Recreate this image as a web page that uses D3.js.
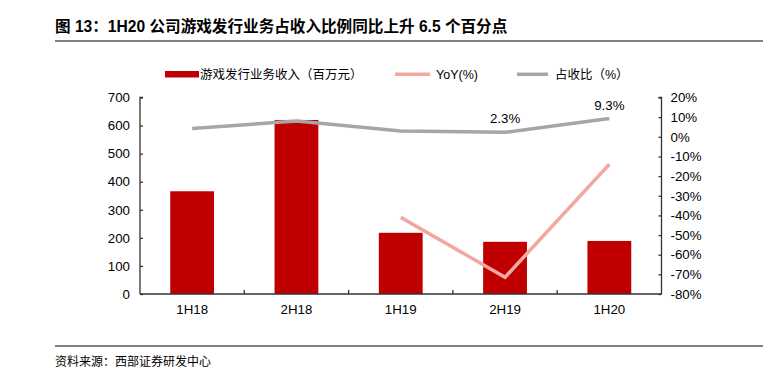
<!DOCTYPE html>
<html><head><meta charset="utf-8">
<script src="https://cdn.jsdelivr.net/npm/d3@7/dist/d3.min.js"></script>
<style>
body{margin:0;background:#fff;}
svg text{font-family:"Liberation Sans",Arial,"Noto Sans CJK SC",sans-serif;}
.cjk{font-family:"Liberation Sans","Noto Sans CJK SC",sans-serif;}
</style></head>
<body><svg id="c" width="772" height="371"></svg>
<script>
const categories = ["1H18","2H18","1H19","2H19","1H20"];
const revenue = [366, 620, 218, 186, 189];
const yoy = [null, null, -41, -71.5, -14];
const share = [4.2, 8.0, 3.0, 2.3, 9.3];
const shareLabels = [null, null, null, "2.3%", "9.3%"];
const leftTicks = [0,100,200,300,400,500,600,700];
const rightTicks = [20,10,0,-10,-20,-30,-40,-50,-60,-70,-80];
const titleText = "图 13：1H20 公司游戏发行业务占收入比例同比上升 6.5 个百分点";
const sourceText = "资料来源：西部证券研发中心";
const legendNames = ["游戏发行业务收入（百万元）","YoY(%)","占收比（%）"];

(function(){
const svg = d3.select("#c");
const pL = 140, pR = 661.5, pT = 97.5, pB = 294;
const red = "#C00000", pink = "#F4A7A1", gray = "#A6A6A6";

svg.append("text").attr("x",55).attr("y",32).attr("font-size",15.6).attr("font-weight","bold")
  .attr("fill","#000").attr("class","cjk").text(titleText);
svg.append("line").attr("x1",55).attr("x2",763).attr("y1",41).attr("y2",41).attr("stroke","#000").attr("stroke-width",1.2);
svg.append("line").attr("x1",55).attr("x2",763).attr("y1",346).attr("y2",346).attr("stroke","#000").attr("stroke-width",1.2);
svg.append("text").attr("x",55).attr("y",366).attr("font-size",12).attr("fill","#000").attr("class","cjk").text(sourceText);

const x = d3.scaleBand().domain(categories).range([pL,pR]).paddingInner(0).paddingOuter(0);
const yL = d3.scaleLinear().domain([0,700]).range([pB,pT]);
const yR = d3.scaleLinear().domain([-80,20]).range([pB,pT]);
const bw = x.bandwidth()*0.42;

svg.append("g").selectAll("rect").data(categories).join("rect")
  .attr("x",d=>x(d)+x.bandwidth()/2-bw/2).attr("width",bw)
  .attr("y",(d,i)=>yL(revenue[i])).attr("height",(d,i)=>pB-yL(revenue[i]))
  .attr("fill",red);

const axL = svg.append("g").attr("transform",`translate(${pL},0)`)
  .call(d3.axisLeft(yL).tickValues(leftTicks).tickSize(-3).tickPadding(10).tickFormat(d3.format("d")));
const axR = svg.append("g").attr("transform",`translate(${pR},0)`)
  .call(d3.axisRight(yR).tickValues(rightTicks).tickSize(-3).tickPadding(9).tickFormat(d=>d+"%"));
const axB = svg.append("g").attr("transform",`translate(0,${pB})`)
  .call(d3.axisBottom(x).tickSize(0).tickPadding(11));
[axL,axR,axB].forEach(a=>{
  a.select(".domain").attr("stroke","#333").attr("stroke-width",1.3);
  a.selectAll(".tick line").attr("stroke","#333").attr("stroke-width",1.3);
  a.selectAll("text").attr("font-size",13.3).attr("fill","#000").attr("font-family","Liberation Sans, Arial, sans-serif");
});
axL.select(".domain").attr("d",`M3,${pT}H0V${pB}`);
axR.select(".domain").attr("d",`M-3,${pT}H0V${pB}`);
axB.select(".domain").attr("d",`M${pL},0H${pR}`);
axB.append("g").selectAll("line").data(categories.slice(1)).join("line")
  .attr("x1",d=>x(d)).attr("x2",d=>x(d)).attr("y1",0).attr("y2",-4)
  .attr("stroke","#333").attr("stroke-width",1.3);

const cx = d => x(d)+x.bandwidth()/2;
const shareLine = d3.line().x((d,i)=>cx(categories[i])).y(d=>yR(d));
svg.append("path").datum(share).attr("d",shareLine).attr("fill","none").attr("stroke",gray).attr("stroke-width",3.5);
const yoyLine = d3.line().defined(d=>d!==null).x((d,i)=>cx(categories[i])).y(d=>yR(d));
svg.append("path").datum(yoy).attr("d",yoyLine).attr("fill","none").attr("stroke",pink).attr("stroke-width",3.5);

const lblIdx = categories.map((d,i)=>i).filter(i=>shareLabels[i]!==null);
svg.append("g").selectAll("text").data(lblIdx).join("text")
  .attr("x",i=>cx(categories[i])).attr("y",i=>yR(share[i])-9)
  .attr("text-anchor","middle").attr("font-size",13.3).attr("fill","#000")
  .text(i=>shareLabels[i]);

const lg = svg.append("g").attr("class","cjk");
lg.append("rect").attr("x",165).attr("y",71).attr("width",34).attr("height",6.5).attr("fill",red);
lg.append("text").attr("x",200).attr("y",78.5).attr("font-size",12.5).text(legendNames[0]);
lg.append("line").attr("x1",395).attr("x2",430).attr("y1",74.3).attr("y2",74.3).attr("stroke",pink).attr("stroke-width",3.5);
lg.append("text").attr("x",436).attr("y",78.5).attr("font-size",12.5).text(legendNames[1]);
lg.append("line").attr("x1",517).attr("x2",548).attr("y1",74.3).attr("y2",74.3).attr("stroke",gray).attr("stroke-width",3.5);
lg.append("text").attr("x",555).attr("y",78.5).attr("font-size",12.5).text(legendNames[2]);
})();
</script></body></html>
